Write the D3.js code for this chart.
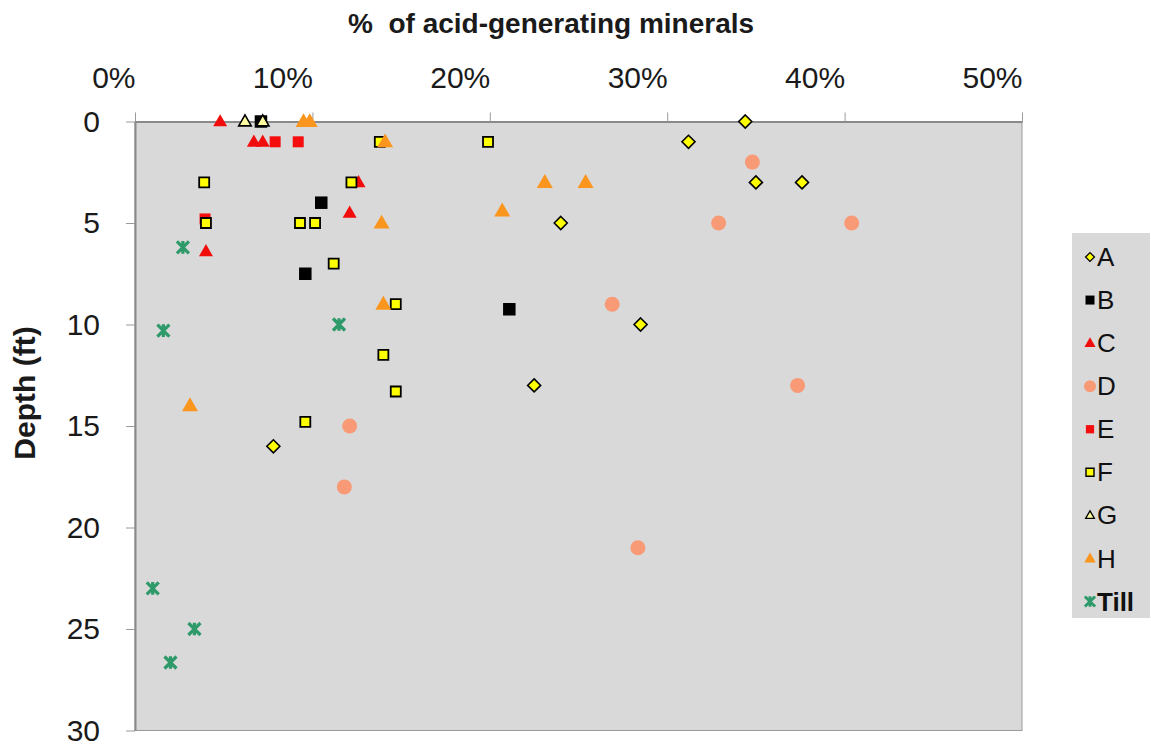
<!DOCTYPE html>
<html>
<head>
<meta charset="utf-8">
<script src="https://cdn.jsdelivr.net/npm/d3@7"></script>
<style>
  html, body { margin: 0; padding: 0; background: #ffffff; }
  svg { display: block; font-family: "Liberation Sans", Arial, sans-serif; }
</style>
</head>
<body>
<svg id="chart" width="1151" height="746"></svg>
<script>
// ---- data: [% of acid-generating minerals, depth (ft)] ----
const seriesNames = ["A", "B", "C", "D", "E", "F", "G", "H", "Till"];
const dataA = [[34.4, 0], [31.2, 1], [35.0, 3], [37.6, 3], [24.0, 5], [28.5, 10], [22.5, 13], [7.8, 16]];
const dataB = [[7.1, 0], [10.5, 4], [9.6, 7.5], [21.1, 9.25]];
const dataC = [[4.8, 0], [6.7, 1], [7.2, 1], [12.6, 3], [12.1, 4.5], [4.0, 6.4]];
const dataD = [[34.8, 2], [32.9, 5], [40.4, 5], [26.9, 9], [37.35, 13], [12.1, 15], [11.8, 18], [28.35, 21]];
const dataE = [[7.9, 1], [9.2, 1], [3.95, 4.8]];
const dataF = [[13.8, 1], [19.9, 1], [3.9, 3], [12.2, 3], [4.0, 5], [9.3, 5], [10.15, 5], [11.2, 7], [14.7, 9], [14.0, 11.5], [14.7, 13.3], [9.6, 14.8]];
const dataG = [[6.2, 0], [7.2, 0]];
const dataH = [[9.5, 0], [9.85, 0], [14.1, 1], [13.9, 5], [23.1, 3], [25.4, 3], [20.7, 4.4], [14.0, 9], [3.1, 14]];
const dataTill = [[2.7, 6.2], [1.6, 10.3], [11.5, 10], [1.0, 23], [3.35, 25], [2.0, 26.65]];
const xTicks = [0, 10, 20, 30, 40, 50];
const yTicks = [0, 5, 10, 15, 20, 25, 30];
const xTitle = "%  of acid-generating minerals";
const yTitle = "Depth (ft)";

// ---- styles ----
const seriesData = [dataA, dataB, dataC, dataD, dataE, dataF, dataG, dataH, dataTill];
const styles = [
  { shape: "diamond", size: 6.5, fill: "#FFFF00", stroke: "#000", sw: 1.6 },
  { shape: "square", size: 12.5, fill: "#000000", stroke: "none", sw: 0 },
  { shape: "triangle", size: 14, fill: "#F20D0D", stroke: "none", sw: 0 },
  { shape: "circle", size: 7.5, fill: "#F89A76", stroke: "none", sw: 0 },
  { shape: "square", size: 11, fill: "#F50E0E", stroke: "none", sw: 0 },
  { shape: "square", size: 10, fill: "#FFFF00", stroke: "#000", sw: 1.8 },
  { shape: "triangle", size: 12.5, fill: "#FFFFA0", stroke: "#000", sw: 1.6 },
  { shape: "triangle", size: 16, fill: "#FA961E", stroke: "none", sw: 0 },
  { shape: "star", size: 6, fill: "none", stroke: "#2E9A6A", sw: 3.2 }
];
const legendScale = [0.68, 0.72, 0.8, 0.8, 0.75, 0.8, 0.7, 0.72, 0.85];

function shapePath(shape, s) {
  if (shape === "diamond") return `M0,${-s}L${s},0L0,${s}L${-s},0Z`;
  if (shape === "square") return `M${-s/2},${-s/2}h${s}v${s}h${-s}Z`;
  if (shape === "triangle") { const h = s * 0.87; return `M0,${-h*0.6}L${s/2},${h*0.4}L${-s/2},${h*0.4}Z`; }
  if (shape === "circle") return `M${s},0A${s},${s},0,1,1,${-s},0A${s},${s},0,1,1,${s},0Z`;
  if (shape === "star") return `M${-s},${-s}L${s},${s}M${-s},${s}L${s},${-s}M0,${-s*1.05}L0,${s*1.05}`;
}

const svg = d3.select("#chart");
const x = d3.scaleLinear().domain([0, 50]).range([135, 1022]);
const y = d3.scaleLinear().domain([0, 30]).range([121.5, 730.5]);

// plot area
svg.append("rect")
  .attr("x", x(0)).attr("y", y(0))
  .attr("width", x(50) - x(0)).attr("height", y(30) - y(0))
  .attr("fill", "#D9D9D9").attr("stroke", "#9a9a9a").attr("stroke-width", 1);

// x axis (top)
const gx = svg.append("g").attr("transform", `translate(0,${y(0)})`)
  .call(d3.axisTop(x).tickValues(xTicks).tickFormat(d => d + "%").tickSize(9).tickSizeOuter(0).tickPadding(25));
gx.select(".domain").attr("stroke", "#8a8a8a").attr("stroke-width", 2);
gx.selectAll(".tick line").attr("stroke", "#9a9a9a").attr("stroke-width", 1);
gx.selectAll(".tick text").attr("text-anchor", "end").attr("x", 0)
  .attr("font-size", 30).attr("fill", "#1a1a1a").attr("font-family", "Liberation Sans, Arial, sans-serif");

// y axis (left)
const gy = svg.append("g").attr("transform", `translate(${x(0)},0)`)
  .call(d3.axisLeft(y).tickValues(yTicks).tickSize(9).tickSizeOuter(0).tickPadding(26));
gy.select(".domain").attr("stroke", "#8a8a8a").attr("stroke-width", 2);
gy.selectAll(".tick line").attr("stroke", "#9a9a9a").attr("stroke-width", 1);
gy.selectAll(".tick text").attr("font-size", 30).attr("fill", "#1a1a1a")
  .attr("font-family", "Liberation Sans, Arial, sans-serif");

// titles
svg.append("text").attr("x", 348).attr("y", 33)
  .attr("font-size", 28).attr("font-weight", "bold").attr("fill", "#1a1a1a")
  .style("white-space", "pre").attr("xml:space", "preserve")
  .text(xTitle);
svg.append("text").attr("transform", "translate(35,393) rotate(-90)")
  .attr("text-anchor", "middle").attr("font-size", 30).attr("font-weight", "bold").attr("fill", "#1a1a1a")
  .text(yTitle);

// points
seriesData.forEach((data, i) => {
  const st = styles[i];
  svg.append("g").selectAll("path").data(data).join("path")
    .attr("transform", d => `translate(${x(d[0])},${y(d[1])})`)
    .attr("d", shapePath(st.shape, st.size))
    .attr("fill", st.fill).attr("stroke", st.stroke).attr("stroke-width", st.sw)
    .attr("stroke-linejoin", "miter");
});

// legend
const lg = svg.append("g");
lg.append("rect").attr("x", 1072).attr("y", 233).attr("width", 78).attr("height", 385).attr("fill", "#D9D9D9");
const ly = d3.scaleLinear().domain([0, seriesNames.length - 1]).range([257, 601.5]);
seriesNames.forEach((name, i) => {
  const st = styles[i];
  const yy = ly(i);
  lg.append("path").attr("transform", `translate(1090,${yy})`)
    .attr("d", shapePath(st.shape, st.size * legendScale[i]))
    .attr("fill", st.fill).attr("stroke", st.stroke).attr("stroke-width", st.sw * (st.shape === "star" ? 0.9 : 0.8));
  lg.append("text").attr("x", 1097).attr("y", yy).attr("dy", "0.35em")
    .attr("font-size", 26).attr("fill", "#111")
    .attr("font-weight", name === "Till" ? "bold" : "normal")
    .text(name);
});
</script>
</body>
</html>
